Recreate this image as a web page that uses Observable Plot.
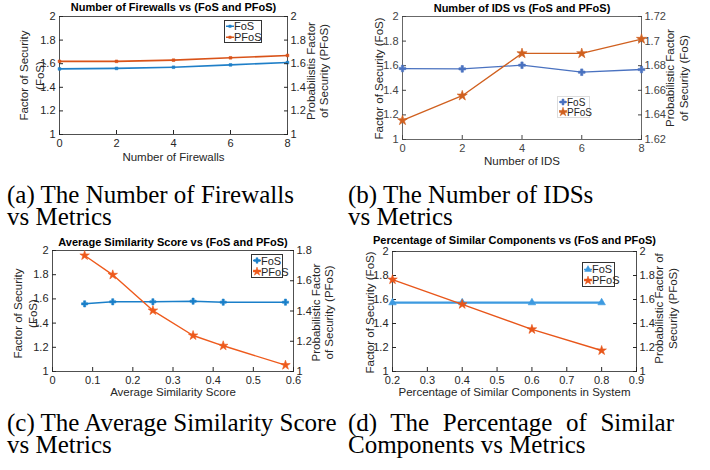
<!DOCTYPE html>
<html><head><meta charset="utf-8">
<script src="https://cdn.jsdelivr.net/npm/d3@7"></script>
<script src="https://cdn.jsdelivr.net/npm/@observablehq/plot@0.6"></script>
<style>
body{margin:0;background:#fff;}
#fig{position:relative;width:710px;height:470px;overflow:hidden;background:#fff;}
.panel{position:absolute;}
.panel svg{position:absolute;left:0;top:0;}
.legend{position:absolute;background:#fff;font-family:"Liberation Sans",Arial,Helvetica,sans-serif;color:#262626;box-sizing:border-box;display:flex;flex-direction:column;justify-content:center;padding-left:1px;}
.legend .row{display:flex;align-items:center;white-space:nowrap;}
.legend svg{display:block;flex:none;}
.cap{position:absolute;font-family:"Liberation Serif","Times New Roman",serif;font-size:25px;line-height:22px;color:#000;}
</style>
</head><body><div id="fig"></div>
<script>
// ---------- data ----------
const firewalls = [0, 2, 4, 6, 8];
const fosFirewalls = [1.556, 1.56, 1.57, 1.59, 1.61];
const pfosFirewalls = [1.62, 1.62, 1.63, 1.65, 1.67];

const idsCount = [0, 2, 4, 6, 8];
const fosIds = [1.577, 1.574, 1.604, 1.547, 1.569];
const pfosIds = [1.6356, 1.6556, 1.690, 1.690, 1.7017];

const similarityScore = [0.08, 0.15, 0.25, 0.35, 0.425, 0.58];
const fosSimilarity = [1.559, 1.576, 1.576, 1.581, 1.573, 1.573];
const pfosSimilarity = [1.767, 1.639, 1.403, 1.238, 1.170, 1.042];

const similarPercent = [0.2, 0.4, 0.6, 0.8];
const fosPercent = [1.574, 1.574, 1.574, 1.574];
const pfosPercent = [1.766, 1.56, 1.351, 1.175];

// tick labels
const ticksEven = [0, 2, 4, 6, 8];
const ticksScore = [0, 0.1, 0.2, 0.3, 0.4, 0.5, 0.6];
const ticksPercent = [0.2, 0.3, 0.4, 0.5, 0.6, 0.7, 0.8, 0.9];
const ticksOneTwo = [1, 1.2, 1.4, 1.6, 1.8, 2];
const ticksIdsRight = [1.62, 1.64, 1.66, 1.68, 1.7, 1.72];
const ticksOneEight = [1, 1.2, 1.4, 1.6, 1.8];

const titles = [
  "Number of Firewalls vs (FoS and PFoS)",
  "Number of IDS vs (FoS and PFoS)",
  "Average Similarity Score vs (FoS and PFoS)",
  "Percentage of Similar Components vs (FoS and PFoS)"
];
const xLabels = ["Number of Firewalls", "Number of IDS", "Average Similarity Score", "Percentage of Similar Components in System"];
const leftLabels = ["Factor of Security\n(FoS)", "Factor of Security (FoS)", "Factor of Security\n(FoS)", "Factor of Security (FoS)"];
const rightLabels = ["Probabilistis Factor\nof Security (PFoS)", "Probabilistic Factor\nof Security (FoS)", "Probabilistic Factor\nof Security (PFoS)", "Probabilistic Factor of\nSecurity (PFoS)"];
const seriesNames = ["FoS", "PFoS"];
const captions = [
  "(a) The Number of Firewalls<br>vs Metrics",
  "(b) The Number of IDSs<br>vs Metrics",
  "(c) The Average Similarity Score<br>vs Metrics",
  "(d) The Percentage of Similar Components vs Metrics"
];

// ---------- rendering ----------
const FONT = '"Liberation Sans", Arial, Helvetica, sans-serif';
const fmt = d => String(+d.toFixed(3));
const fig = document.getElementById("fig");
const symbolMap = {square: d3.symbolSquare, cross: d3.symbolCross, star: d3.symbolStar, triangle: d3.symbolTriangle, times: d3.symbolTimes, diamond: d3.symbolDiamond};

function dotMark(rows, key, s) {
  return Plot.dot(rows, {x: "x", y: key, symbol: s.symbol, r: s.r, fill: s.color, stroke: s.color, strokeWidth: 0.6});
}
function label(str, opts) {
  return Plot.text([str], {text: d => d, textAnchor: "middle", lineAnchor: "middle", fill: "#262626", fontSize: 11.5, ...opts});
}

function buildPanel(c) {
  const holder = document.createElement("div");
  holder.className = "panel";
  Object.assign(holder.style, {left: c.left + "px", top: c.top + "px", width: c.width + "px", height: c.height + "px"});
  const [mL, mR, mT, mB] = c.margins;
  const base = {
    width: c.width, height: c.height,
    marginLeft: mL, marginRight: mR, marginTop: mT, marginBottom: mB,
    style: {fontFamily: FONT, fontSize: "11px", color: "#262626", background: "transparent", overflow: "visible", maxWidth: "none"}
  };
  const rows = c.xs.map((x, i) => ({x, fos: c.fos[i], pfos: c.pfos[i]}));
  const leftPlot = Plot.plot({
    ...base,
    x: {domain: c.xDomain},
    y: {domain: [1, 2]},
    marks: [
      Plot.frame({stroke: c.axisColor, strokeWidth: 0.8}),
      Plot.axisX(c.xTicks, {anchor: "bottom", tickSize: -4, tickPadding: 9, tickFormat: fmt, label: null, color: c.axisColor, fontSize: 11}),
      Plot.axisY(ticksOneTwo, {anchor: "left", tickSize: -4, tickPadding: 8, tickFormat: fmt, label: null, color: c.axisColor, fontSize: 11}),
      Plot.line(rows, {x: "x", y: "fos", stroke: c.s1.color, strokeWidth: c.s1.width}),
      dotMark(rows, "fos", c.s1),
      label(c.title, {frameAnchor: "top", dy: c.titleDy, fontWeight: "bold", fontSize: 11, fill: "#000"}),
      label(c.xLabel, {frameAnchor: "bottom", dy: c.xLabelDy}),
      label(c.yLabelL, {frameAnchor: "left", rotate: -90, dx: c.yLDx, dy: c.yLDy, lineHeight: c.yLLh})
    ]
  });
  const rightPlot = Plot.plot({
    ...base,
    x: {domain: c.xDomain, axis: null},
    y: {domain: c.yDomainR},
    marks: [
      Plot.axisY(c.yTicksR, {anchor: "right", tickSize: -4, tickPadding: 7, tickFormat: fmt, label: null, color: c.axisColor, fontSize: 11}),
      Plot.line(rows, {x: "x", y: "pfos", stroke: c.s2.color, strokeWidth: c.s2.width}),
      dotMark(rows, "pfos", c.s2),
      label(c.yLabelR, {frameAnchor: "right", rotate: -90, dx: c.yRDx, dy: c.yRDy, lineHeight: c.yRLh})
    ]
  });
  holder.appendChild(leftPlot);
  holder.appendChild(rightPlot);
  fig.appendChild(holder);

  // legend
  const L = document.createElement("div");
  L.className = "legend";
  const lg = c.legend;
  Object.assign(L.style, {left: lg.x + "px", top: lg.y + "px", width: lg.w + "px", height: lg.h + "px", border: `1px solid ${lg.border}`, fontSize: lg.font + "px"});
  [c.s1, c.s2].forEach((s, i) => {
    const row = document.createElement("div");
    row.className = "row";
    row.style.height = lg.rowH + "px";
    const w = 8, h = lg.rowH;
    const sym = d3.symbol(symbolMap[s.symbol], Math.PI * s.r * s.r * 0.8)();
    row.innerHTML = `<svg width="${w}" height="${h}"><line x1="0" x2="${w}" y1="${h / 2}" y2="${h / 2}" stroke="${s.color}" stroke-width="${Math.min(s.width, 1.5)}"/><path d="${sym}" transform="translate(${w / 2},${h / 2})" fill="${s.color}" stroke="${s.color}" stroke-width="0.5"/></svg><span>${seriesNames[i]}</span>`;
    L.appendChild(row);
  });
  fig.appendChild(L);
}

const panels = [
  {left: 0, top: 0, width: 350, height: 175, margins: [59, 63, 16, 41],
   xs: firewalls, fos: fosFirewalls, pfos: pfosFirewalls,
   xDomain: [0, 8], xTicks: ticksEven, yDomainR: [1, 2], yTicksR: ticksOneTwo,
   axisColor: "#262626",
   s1: {color: "#1f7fc8", width: 1.6, symbol: "square", r: 1.5},
   s2: {color: "#d95319", width: 1.6, symbol: "square", r: 1.5},
   title: titles[0], titleDy: -9, xLabel: xLabels[0], xLabelDy: 23,
   yLabelL: leftLabels[0], yLDx: -29, yLDy: 0, yLLh: 16 / 11.5,
   yLabelR: rightLabels[0], yRDx: 29.5, yRDy: -4.5, yRLh: 13 / 11.5,
   legend: {x: 224, y: 20, w: 38, h: 23, rowH: 10.5, border: "#333", font: 11}},
  {left: 350, top: 0, width: 360, height: 175, margins: [52, 69, 16, 36],
   xs: idsCount, fos: fosIds, pfos: pfosIds,
   xDomain: [0, 8], xTicks: ticksEven, yDomainR: [1.62, 1.72], yTicksR: ticksIdsRight,
   axisColor: "#444",
   s1: {color: "#4a72c0", width: 1.3, symbol: "cross", r: 2.8},
   s2: {color: "#d0601f", width: 1.3, symbol: "star", r: 3.2},
   title: titles[1], titleDy: -8, xLabel: xLabels[1], xLabelDy: 22,
   yLabelL: leftLabels[1], yLDx: -23, yLDy: 0.5, yLLh: 1,
   yLabelR: rightLabels[1], yRDx: 35, yRDy: 0, yRLh: 14 / 11.5,
   legend: {x: 557, y: 96, w: 33, h: 22, rowH: 10, border: "#ddd", font: 10}},
  {left: 0, top: 225, width: 350, height: 185, margins: [52, 57, 25, 39],
   xs: similarityScore, fos: fosSimilarity, pfos: pfosSimilarity,
   xDomain: [0, 0.6], xTicks: ticksScore, yDomainR: [1, 1.8], yTicksR: ticksOneEight,
   axisColor: "#262626",
   s1: {color: "#1a7fc9", width: 1.5, symbol: "cross", r: 2.6},
   s2: {color: "#ee5a1c", width: 1.4, symbol: "star", r: 3},
   title: titles[2], titleDy: -8, xLabel: xLabels[2], xLabelDy: 21,
   yLabelL: leftLabels[2], yLDx: -27.5, yLDy: 2.5, yLLh: 15 / 11.5,
   yLabelR: rightLabels[2], yRDx: 28.5, yRDy: 1.5, yRLh: 13 / 11.5,
   legend: {x: 251, y: 254, w: 32, h: 24, rowH: 11, border: "#333", font: 11}},
  {left: 350, top: 225, width: 360, height: 185, margins: [42, 74, 26, 39],
   xs: similarPercent, fos: fosPercent, pfos: pfosPercent,
   xDomain: [0.2, 0.9], xTicks: ticksPercent, yDomainR: [1, 2], yTicksR: ticksOneTwo,
   axisColor: "#262626",
   s1: {color: "#3d9ae0", width: 2.4, symbol: "triangle", r: 2.8},
   s2: {color: "#e8561a", width: 1.4, symbol: "star", r: 3},
   title: titles[3], titleDy: -11, xLabel: xLabels[3], xLabelDy: 21,
   yLabelL: leftLabels[3], yLDx: -22, yLDy: 1, yLLh: 1,
   yLabelR: rightLabels[3], yRDx: 29, yRDy: -3, yRLh: 14 / 11.5,
   legend: {x: 582, y: 262, w: 33, h: 25, rowH: 11, border: "#333", font: 11}}
];
panels.forEach(buildPanel);

// captions
const capPos = [
  {x: 7, y: 184, w: 335, align: "left"},
  {x: 348, y: 184, w: 330, align: "left"},
  {x: 7, y: 412, w: 340, align: "left"},
  {x: 348, y: 412, w: 326, align: "justify"}
];
captions.forEach((t, i) => {
  const d = document.createElement("div");
  d.className = "cap";
  const p = capPos[i];
  Object.assign(d.style, {left: p.x + "px", top: p.y + "px", width: p.w + "px", textAlign: p.align});
  d.innerHTML = t;
  fig.appendChild(d);
});
</script>
</body></html>
